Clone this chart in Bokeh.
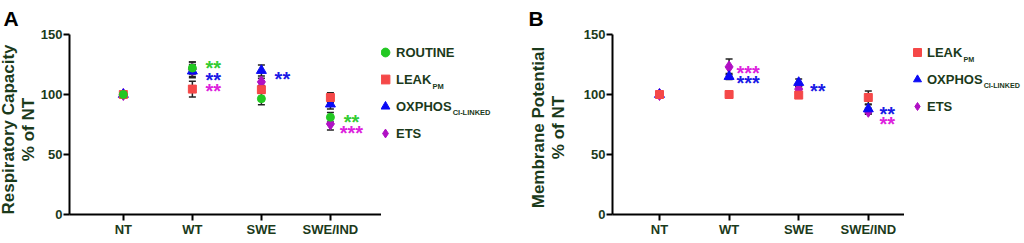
import numpy as np
from bokeh.plotting import figure
from bokeh.models import (ColumnDataSource, Whisker, TeeHead, FixedTicker, Label,
                          Legend, LegendItem, Range1d)
from bokeh.layouts import row
from bokeh.embed import file_html
from bokeh.resources import INLINE
from bokeh.core.properties import value

categories = ["NT", "WT", "SWE", "SWE/IND"]

# ---- Panel A: respiratory capacity (% of NT), mean and SEM ----
a_routine = [100, 122, 96.5, 81]
a_routine_sem = [0, 5, 5, 4]
a_leak = [100, 104.5, 104, 97.5]
a_leak_sem = [0, 6.5, 3, 4]
a_oxphos = [100, 119.5, 120, 92]
a_oxphos_sem = [0, 5.5, 4.5, 4]
a_ets = [100, 121, 110.5, 75.5]
a_ets_sem = [0, 6, 3, 5]

# significance stars for panel A
a_star_cat = ["WT", "WT", "WT", "SWE", "SWE/IND", "SWE/IND"]
a_star_y = [126, 116, 107, 117, 81, 72.5]
a_star_text = ["**", "**", "**", "**", "**", "***"]
a_star_series = ["ROUTINE", "OXPHOS", "ETS", "OXPHOS", "ROUTINE", "ETS"]

# ---- Panel B: membrane potential (% of NT), mean and SEM ----
b_leak = [100, 100, 99.5, 97.5]
b_leak_sem = [0, 0.5, 1.5, 5.5]
b_oxphos = [100, 115, 110, 88]
b_oxphos_sem = [0, 2.5, 3, 3.5]
b_ets = [100, 123, 104.5, 86]
b_ets_sem = [0, 6.5, 2, 2.5]

b_star_cat = ["WT", "WT", "SWE", "SWE/IND", "SWE/IND"]
b_star_y = [122, 114, 107, 88, 80]
b_star_text = ["***", "***", "**", "**", "**"]
b_star_series = ["ETS", "OXPHOS", "OXPHOS", "OXPHOS", "ETS"]

y_ticks = [0, 50, 100, 150]

# ---- styles ----
FONT = "Liberation Sans"
TXT = "#1b3a1b"
MARK = {"ROUTINE": ("circle", "#22c822", 8),
        "LEAK": ("square", "#f54848", 8),
        "OXPHOS": ("triangle", "#0a0af5", 10),
        "ETS": ("diamond", "#b010c4", 12)}
STAR_COL = {"ROUTINE": "#33cc33", "OXPHOS": "#1a1ae6", "ETS": "#dd22dd"}
SUBS = {"LEAK": "PM", "OXPHOS": "CI-LINKED"}
TEXT_W = {"LEAK": 2.722, "OXPHOS": 4.279}   # label widths in em (Arial bold metrics)
TOP, FRAME_H, BOTTOM = 31, 180, 26           # shared vertical structure of all figures
ITEM_H, SPACING = 22, 5

series_a = {"ROUTINE": (a_routine, a_routine_sem), "LEAK": (a_leak, a_leak_sem),
            "OXPHOS": (a_oxphos, a_oxphos_sem), "ETS": (a_ets, a_ets_sem)}
series_b = {"LEAK": (b_leak, b_leak_sem), "OXPHOS": (b_oxphos, b_oxphos_sem),
            "ETS": (b_ets, b_ets_sem)}
XS = np.arange(1, len(categories) + 1)


def strip(width, title=""):
    # side strip for titles / legend; its ranges keep any data out of view
    f = figure(frame_width=width, frame_height=FRAME_H,
               x_range=Range1d(-10, -9), y_range=Range1d(-10, -9),
               output_backend="svg", toolbar_location=None,
               min_border_left=0, min_border_right=0,
               min_border_top=TOP, min_border_bottom=BOTTOM,
               x_axis_type=None, y_axis_type=None, title=title)
    f.outline_line_color = None
    f.grid.visible = False
    return f


def title_strip(width, letter, letter_x, line1, x1, line2, x2, ymid):
    f = strip(width, letter)
    f.title.align = "left"
    f.title.offset = letter_x
    f.title.standoff = 9
    f.title.text_font = FONT
    f.title.text_font_style = "bold"
    f.title.text_font_size = "21px"
    f.title.text_color = "black"
    for txt, lx in ((line1, x1), (line2, x2)):
        f.add_layout(Label(x=lx, y=ymid, x_units="screen", y_units="screen",
                           text=txt, angle=np.pi / 2, text_font=FONT,
                           text_font_style="bold", text_font_size="17px",
                           text_color=TXT, text_align="center",
                           text_baseline="middle"))
    return f


def legend_strip(width, series, leg_x, top_gap, glyph_w, sub_size):
    """top_gap: px from frame top to the top of the legend box."""
    f = strip(width)
    names = list(series.keys())
    rends = {}
    for n in names:
        marker, col, size = MARK[n]
        rends[n] = f.scatter(x=XS, y=series[n][0], marker=marker, size=size,
                             fill_color=col, line_color=col)
    pitch = ITEM_H + SPACING
    leg_h = len(names) * ITEM_H + (len(names) - 1) * SPACING
    leg = Legend(items=[LegendItem(label=n, renderers=[rends[n]]) for n in names],
                 location=(leg_x, FRAME_H - top_gap - leg_h), orientation="vertical",
                 glyph_width=glyph_w, glyph_height=ITEM_H, label_height=ITEM_H,
                 spacing=SPACING, padding=0, margin=0, label_standoff=0,
                 border_line_color=None, background_fill_alpha=0,
                 label_text_font=FONT, label_text_font_style="bold",
                 label_text_font_size="13px", label_text_color=TXT)
    f.add_layout(leg)
    text_x0 = leg_x + glyph_w
    for i, n in enumerate(names):
        if n in SUBS:
            cy = top_gap + ITEM_H / 2 + i * pitch + (7 if n == "LEAK" else 6)
            f.add_layout(Label(x=text_x0 + TEXT_W[n] * 13 + 0.5, y=FRAME_H - cy,
                               x_units="screen", y_units="screen", text=SUBS[n],
                               text_font=FONT, text_font_style="bold",
                               text_font_size=sub_size, text_color=TXT,
                               text_align="left", text_baseline="middle"))
    return f


def make_panel(series, stars, x_range, left_border, frame_w, star_dx):
    p = figure(frame_width=frame_w, frame_height=FRAME_H,
               x_range=Range1d(*x_range), y_range=Range1d(0, 150),
               output_backend="svg", toolbar_location=None,
               min_border_left=left_border, min_border_right=0,
               min_border_top=TOP, min_border_bottom=BOTTOM)
    p.outline_line_color = None
    p.grid.visible = False

    for ax in (p.xaxis[0], p.yaxis[0]):
        ax.axis_line_width = 2
        ax.axis_line_color = "black"
        ax.major_tick_line_width = 2
        ax.major_tick_line_color = "black"
        ax.major_tick_out = 6
        ax.major_tick_in = 0
        ax.minor_tick_line_color = None
        ax.major_label_text_font = FONT
        ax.major_label_text_font_style = "bold"
        ax.major_label_text_font_size = "13px"
        ax.major_label_text_color = TXT
        ax.major_label_standoff = 1
    p.xaxis.ticker = FixedTicker(ticks=list(XS))
    p.xaxis.major_label_overrides = {int(i): c for i, c in zip(XS, categories)}
    p.yaxis.ticker = FixedTicker(ticks=y_ticks)

    # error bars (SEM)
    for name, (vals, sem) in series.items():
        v = np.array(vals, float)
        s = np.array(sem, float)
        src = ColumnDataSource(dict(x=XS, lo=v - s, hi=v + s))
        p.add_layout(Whisker(base="x", lower="lo", upper="hi", source=src,
                             line_color="#222222", line_width=1.5,
                             upper_head=TeeHead(size=7, line_color="#222222",
                                                line_width=1.5),
                             lower_head=TeeHead(size=7, line_color="#222222",
                                                line_width=1.5)))
    # markers, reverse order so that the first series lies on top
    for name in reversed(list(series.keys())):
        vals, _ = series[name]
        marker, col, size = MARK[name]
        src = ColumnDataSource(dict(x=XS, y=vals))
        p.scatter("x", "y", source=src, marker=marker, size=size,
                  fill_color=col, line_color=col)

    # significance stars
    cat_cat, ys, texts, sers = stars
    sx = [categories.index(c) + 1 for c in cat_cat]
    ssrc = ColumnDataSource(dict(x=sx, y=ys, t=texts,
                                 c=[STAR_COL[s] for s in sers]))
    p.text("x", "y", text="t", source=ssrc, text_color="c",
           text_font=value(FONT), text_font_style="bold", text_font_size="20px",
           text_align="center", text_baseline="middle",
           x_offset=star_dx, y_offset=5)
    return p


# row: tA | pA | legA | tB | pB | legB
tA = title_strip(37, "A", 3, "Respiratory Capacity", 8, "% of NT", 28, 85)
pA = make_panel(series_a, (a_star_cat, a_star_y, a_star_text, a_star_series),
                (0.22, 4.74), 30, 312, 21)
legA = legend_strip(127, series_a, -7, 7, 22, "7.5px")

tB = title_strip(72, "B", 20, "Membrane Potential", 29.5, "% of NT", 50, 87)
pB = make_panel(series_b, (b_star_cat, b_star_y, b_star_text, b_star_series),
                (0.325, 4.52), 31, 292, 19)
legB = legend_strip(117, series_b, 3, 7, 20, "7.2px")

layout = row(tA, pA, legA, tB, pB, legB)
open("out.html", "w").write(file_html(layout, INLINE))
